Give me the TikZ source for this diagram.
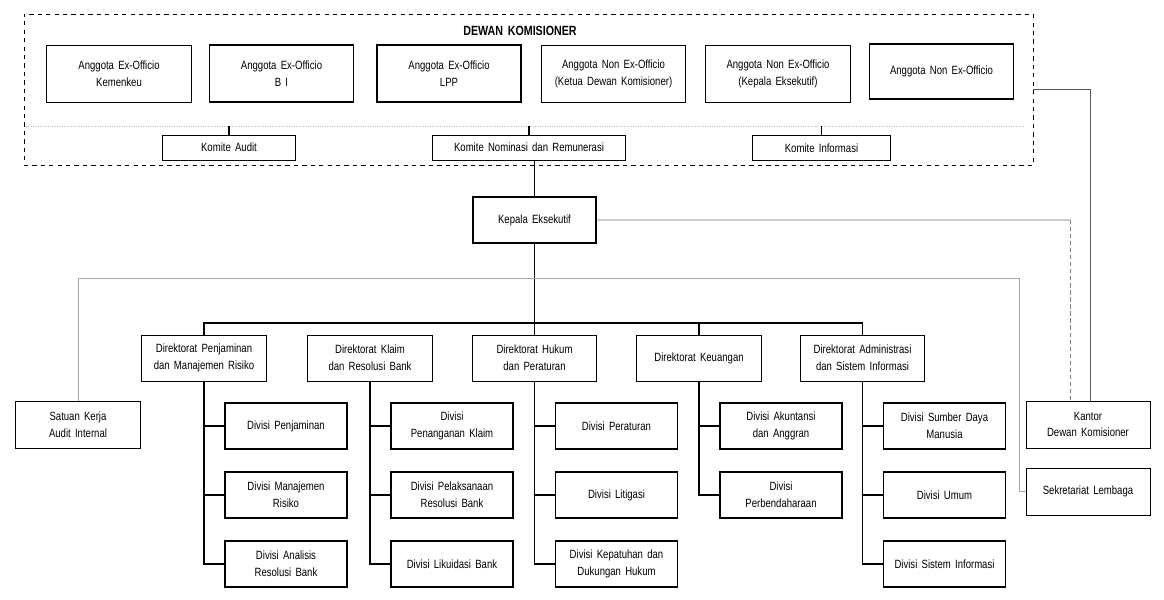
\documentclass[tikz,border=0pt]{standalone}
\usepackage{fontspec}
\setmainfont{Liberation Sans}[FakeStretch=0.8,WordSpace=1.6]
\usetikzlibrary{positioning}

\tikzset{
  box/.style={draw, line width=0.7pt, align=center, inner sep=1pt, font=\fontsize{8.5}{12}\selectfont},
  thickbox/.style={box, line width=1.3pt},
  topbox/.style={minimum width=3.6cm, minimum height=1.425cm},
  dirbox/.style={box, minimum width=3.1cm, minimum height=1.15cm},
  divbox/.style={box, line width=0.8pt, minimum width=3.05cm, minimum height=1.15cm},
  sidebox/.style={box, minimum width=3.1cm, minimum height=1.175cm},
  orgline/.style={line width=1.1pt},
  grayline/.style={gray!70, line width=0.5pt}
}

\begin{document}
\begin{tikzpicture}[x=0.025cm,y=-0.025cm]
	\useasboundingbox (0,0) rectangle (1164,599);

	% dewan komisioner
	\node[draw, dashed, line width=0.5pt, minimum width=25.225cm, minimum height=3.775cm, inner sep=0pt] (dk) at (528.5,89.5) {};
	\node[font=\bfseries\fontsize{9.5}{10}\selectfont] (dk-title) at (520,31) {DEWAN KOMISIONER};

	\node[box,topbox] (ex1) at (119,73.5) {Anggota Ex-Officio\\Kemenkeu};
	\node[thickbox,topbox] (ex2) at (281.5,73.5) {Anggota Ex-Officio\\B I};
	\node[thickbox,topbox] (ex3) at (449,73.5) {Anggota Ex-Officio\\LPP};
	\node[box,topbox] (nx1) at (613.5,73.5) {Anggota Non Ex-Officio\\(Ketua Dewan Komisioner)};
	\node[box,topbox] (nx2) at (778,73.5) {Anggota Non Ex-Officio\\(Kepala Eksekutif)};
	\node[thickbox,topbox,minimum height=1.375cm] (nx3) at (941.5,71.5) {Anggota Non Ex-Officio};

	% komite
	\coordinate (kbus-w) at (26,126);
	\coordinate (kbus-e) at (1025,126);
	\draw[gray!55, densely dotted, line width=0.7pt] (kbus-w) -- (kbus-e);
	\node[box, minimum width=3.3cm, minimum height=0.625cm] (k-audit) at (229,147.5) {Komite Audit};
	\node[box, minimum width=4.8cm, minimum height=0.625cm] (k-nom) at (529,147.5) {Komite Nominasi dan Remunerasi};
	\node[box, minimum width=3.425cm, minimum height=0.625cm] (k-info) at (821.5,148) {Komite Informasi};
	\foreach \k in {k-audit,k-nom,k-info}
		\draw[line width=0.8pt] (\k.north) -- (\k.north |- kbus-w);

	% kepala eksekutif
	\node[thickbox, minimum width=3.075cm, minimum height=1.15cm] (ke) at (534.5,220) {Kepala Eksekutif};
	\draw[orgline] (ke.north |- k-nom.south) -- (ke.north);

	% direktorat
	\node[dirbox] (d1) at (204,358) {Direktorat Penjaminan\\dan Manajemen Risiko};
	\node[dirbox] (d2) at (370,358) {Direktorat Klaim\\dan Resolusi Bank};
	\node[dirbox] (d3) at (534.5,358) {Direktorat Hukum\\dan Peraturan};
	\node[dirbox] (d4) at (699,358) {Direktorat Keuangan};
	\node[dirbox] (d5) at (862.5,358) {Direktorat Administrasi\\dan Sistem Informasi};

	\coordinate (dbus) at (0,323);
	\draw[orgline] (ke.south) -- (d3.north);
	\draw[orgline] (d1.north) -- (d1.north |- dbus) -- (d5.north |- dbus) -- (d5.north);
	\draw[orgline] (d4.north |- dbus) -- (d4.north);

	% divisi
	\node[divbox] (v11) at (286,426) {Divisi Penjaminan};
	\node[divbox] (v12) at (286,495) {Divisi Manajemen\\Risiko};
	\node[divbox] (v13) at (286,564) {Divisi Analisis\\Resolusi Bank};
	\node[divbox] (v21) at (452,426) {Divisi\\Penanganan Klaim};
	\node[divbox] (v22) at (452,495) {Divisi Pelaksanaan\\Resolusi Bank};
	\node[divbox] (v23) at (452,564) {Divisi Likuidasi Bank};
	\node[divbox] (v31) at (616.5,426) {Divisi Peraturan};
	\node[divbox] (v32) at (616.5,495) {Divisi Litigasi};
	\node[divbox] (v33) at (616.5,564) {Divisi Kepatuhan dan\\Dukungan Hukum};
	\node[divbox] (v41) at (781,426) {Divisi Akuntansi\\dan Anggran};
	\node[divbox] (v42) at (781,495) {Divisi\\Perbendaharaan};
	\node[divbox] (v51) at (944.5,426) {Divisi Sumber Daya\\Manusia};
	\node[divbox] (v52) at (944.5,495) {Divisi Umum};
	\node[divbox] (v53) at (944.5,564) {Divisi Sistem Informasi};

	\foreach \d in {1,2,3,5}{
		\draw[orgline] (d\d.south) |- (v\d3.west);
		\draw[orgline] (v\d1.west -| d\d.south) -- (v\d1.west);
		\draw[orgline] (v\d2.west -| d\d.south) -- (v\d2.west);
	}
	\draw[orgline] (d4.south) |- (v42.west);
	\draw[orgline] (v41.west -| d4.south) -- (v41.west);

	% staf
	\node[sidebox] (satker) at (78,424.5) {Satuan Kerja\\Audit Internal};
	\node[sidebox] (kantor) at (1088,424.5) {Kantor\\Dewan Komisioner};
	\node[sidebox] (sekr) at (1088,491.5) {Sekretariat Lembaga};

	\coordinate (sline) at (1019,278);
	\draw[grayline] (satker.north) |- (sline) |- (sekr.west);
	\draw[gray!70!black, line width=0.6pt] (dk.east) -| ([xshift=0.05cm]kantor.north);
	\coordinate (kk) at (1070,220);
	\draw[gray!40, line width=0.8pt] (ke.east) -- (kk);
	\draw[gray, densely dashed, line width=0.5pt] (kk) -- (kk |- kantor.north);
\end{tikzpicture}
\end{document}
